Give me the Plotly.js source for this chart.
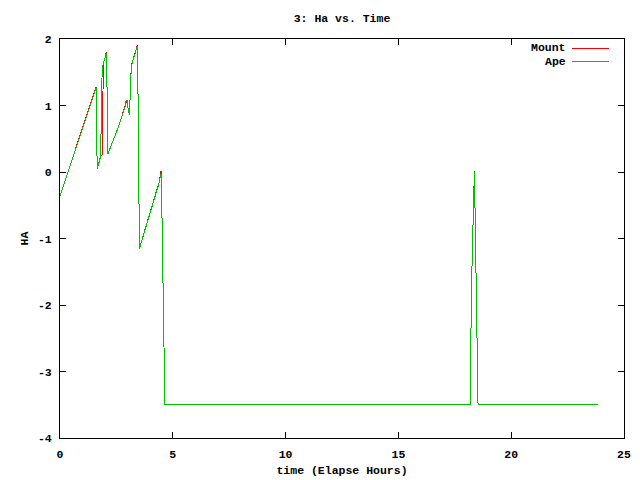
<!DOCTYPE html>
<html>
<head>
<meta charset="utf-8">
<script src="https://cdn.plot.ly/plotly-3.0.1.min.js"></script>
<style>
html,body{margin:0;padding:0;background:#fff;}
#chart{width:640px;height:480px;}
#chart .scatterlayer path, #chart .layer-above path, #chart .xlines-above, #chart .ylines-above, #chart .xtick, #chart .ytick, #chart .x2tick, #chart .y2tick { shape-rendering: crispEdges; }
</style>
</head>
<body>
<div id="chart"></div>
<script>
// Elapsed time (hours) and HA values
const mountTime = [0, 1.60, 1.62, 1.65, 1.76, 1.80, 1.90, 1.91, 1.99, 2.06, 2.08, 2.12, 2.57, 2.88, 2.93, 2.97, 3.03, 3.08, 3.13, 3.16, 3.22, 3.28, 3.34, 3.40, 3.43, 3.46, 3.48, 3.52, 4.21, 4.39, 4.44, 4.48, 4.51, 4.55, 4.60, 4.65, 18.19, 18.20, 18.23, 18.29, 18.33, 18.37, 18.40, 18.46, 18.51, 18.53, 23.85];
const mountHA   = [-0.36, 1.28, 0.66, 0.05, 0.18, 0.25, 0.26, 1.63, 1.71, 1.81, 1.40, 0.27, 0.66, 0.99, 1.07, 1.08, 0.93, 0.86, 1.33, 1.59, 1.67, 1.74, 1.79, 1.89, 1.91, 1.13, -0.35, -1.15, -0.36, -0.16, -0.06, 0.02, -0.44, -1.35, -2.78, -3.50, -3.50, -2.98, -1.90, -1.02, -0.30, 0.02, -0.62, -1.82, -2.95, -3.50, -3.50];

const apeTime = [0, 1.60, 1.62, 1.65, 1.76, 1.80, 1.82, 1.86, 1.91, 1.99, 2.06, 2.08, 2.12, 2.57, 2.88, 2.93, 2.97, 3.03, 3.08, 3.13, 3.16, 3.22, 3.28, 3.34, 3.40, 3.43, 3.46, 3.48, 3.52, 4.21, 4.39, 4.44, 4.48, 4.51, 4.55, 4.60, 4.65, 18.19, 18.20, 18.23, 18.29, 18.33, 18.37, 18.40, 18.46, 18.51, 18.53, 23.85];
const apeHA   = [-0.36, 1.27, 0.66, 0.05, 0.18, 0.25, 0.60, 1.41, 1.62, 1.70, 1.79, 1.40, 0.27, 0.66, 0.98, 1.07, 1.08, 0.93, 0.86, 1.33, 1.58, 1.66, 1.73, 1.78, 1.88, 1.90, 1.13, -0.35, -1.15, -0.37, -0.17, -0.07, -0.03, -0.44, -1.35, -2.78, -3.50, -3.50, -2.98, -1.90, -1.02, -0.32, 0.00, -0.62, -1.82, -2.95, -3.50, -3.50];

const seriesNames = ["Mount", "Ape"];
const seriesColors = ["#ff0000", "#00c000"];
const xTicks = [0, 5, 10, 15, 20, 25];
const yTicks = [-4, -3, -2, -1, 0, 1, 2];

const FONT = {family: "Liberation Mono, DejaVu Sans Mono, monospace", size: 11.5, color: "#000", weight: "bold"};

const traces = [
  {x: mountTime, y: mountHA, name: seriesNames[0], type: "scatter", mode: "lines",
   line: {color: seriesColors[0], width: 1}},
  {x: apeTime, y: apeHA, name: seriesNames[1], type: "scatter", mode: "lines",
   line: {color: seriesColors[1], width: 1}}
];

const axisCommon = {
  showline: true, linecolor: "#000", linewidth: 1, mirror: "allticks",
  ticks: "inside", ticklen: 6, tickcolor: "#000", tickwidth: 1,
  showgrid: false, zeroline: false, tickfont: FONT, ticklabelstandoff: 5
};

const layout = {
  width: 640, height: 480,
  paper_bgcolor: "#fff", plot_bgcolor: "#fff",
  margin: {l: 60, r: 16, t: 39, b: 42, pad: 0},
  showlegend: false,
  font: FONT,
  title: {text: "3: Ha vs. Time", font: FONT, x: 0.5, xref: "paper", y: 1 - 18/480, yref: "container", yanchor: "middle"},
  xaxis: Object.assign({}, axisCommon, {
    range: [0, 25], tickvals: xTicks, ticktext: xTicks.map(String),
    title: {text: "time (Elapse Hours)", font: FONT, standoff: 6}
  }),
  yaxis: Object.assign({}, axisCommon, {
    range: [-4, 2], tickvals: yTicks, ticktext: yTicks.map(String),
    title: {text: "HA", font: FONT, standoff: 6}
  }),
  annotations: seriesNames.map((n, i) => ({
    text: n, xref: "paper", yref: "paper", x: (568 - 60) / 564, y: 1 - (48 + 13 * i - 39) / 399,
    xanchor: "right", yanchor: "middle", showarrow: false, font: FONT
  })),
  shapes: seriesNames.map((n, i) => ({
    type: "line", xref: "paper", yref: "paper",
    x0: (572 - 60) / 564, x1: (609 - 60) / 564,
    y0: 1 - (48 + 13 * i - 39) / 399, y1: 1 - (48 + 13 * i - 39) / 399,
    line: {color: seriesColors[i], width: 1}
  }))
};

Plotly.newPlot("chart", traces, layout, {staticPlot: true, displayModeBar: false});
</script>
</body>
</html>
